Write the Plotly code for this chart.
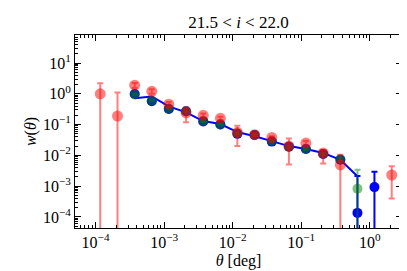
import plotly.graph_objects as go

# red series (bins k = 0..14, 17)
theta_red = [1.17e-4, 2.09e-4, 3.72e-4, 6.61e-4, 1.17e-3, 2.09e-3, 3.72e-3, 6.61e-3,
             1.17e-2, 2.09e-2, 3.72e-2, 6.61e-2, 0.117, 0.209, 0.372, 2.09]
w_red = [1.0, 0.19, 1.9, 1.2, 0.46, 0.24, 0.20, 0.16,
         0.056, 0.047, 0.038, 0.020, 0.025, 0.012, 0.0049, 0.0023]
err_red_plus = [1.2, 0.91, 0.35, 0.2, 0.08, 0.12, 0.03, 0.02,
                0.036, 0.005, 0.004, 0.015, 0.004, 0.003, 0.0055, 0.0021]
err_red_minus = [2.0, 0.4, 0.35, 0.2, 0.08, 0.12, 0.03, 0.02,
                 0.036, 0.005, 0.004, 0.015, 0.004, 0.0066, 0.01, 0.0019]

# blue markers (bins k = 2..16)
theta_blue = [3.72e-4, 6.61e-4, 1.17e-3, 2.09e-3, 3.72e-3, 6.61e-3, 1.17e-2,
              2.09e-2, 3.72e-2, 6.61e-2, 0.117, 0.209, 0.372, 0.661, 1.17]
w_blue = [0.98, 0.57, 0.32, 0.27, 0.127, 0.10, 0.05,
          0.046, 0.028, 0.019, 0.016, 0.011, 0.0072, 1.35e-4, 9.3e-4]
err_blue_plus = [0.05, 0.03, 0.02, 0.015, 0.008, 0.006, 0.003,
                 0.003, 0.002, 0.0012, 0.001, 0.0008, 0.0008, 2.0e-3, 2.0e-3]
err_blue_minus = [0.05, 0.03, 0.02, 0.015, 0.008, 0.006, 0.003,
                  0.003, 0.002, 0.0012, 0.001, 0.0008, 0.0008, 1.0e-3, 3.0e-3]

# green markers (bins k = 2..15)
theta_green = [3.72e-4, 6.61e-4, 1.17e-3, 2.09e-3, 3.72e-3, 6.61e-3, 1.17e-2,
               2.09e-2, 3.72e-2, 6.61e-2, 0.117, 0.209, 0.372, 0.661]
w_green = [0.95, 0.6, 0.33, 0.27, 0.13, 0.10, 0.052,
           0.046, 0.029, 0.019, 0.016, 0.011, 0.0075, 8.3e-4]
err_green_plus = [0.05, 0.03, 0.02, 0.015, 0.008, 0.006, 0.003,
                  0.003, 0.002, 0.0012, 0.001, 0.0008, 0.0008, 2.6e-3]
err_green_minus = [0.05, 0.03, 0.02, 0.015, 0.008, 0.006, 0.003,
                   0.003, 0.002, 0.0012, 0.001, 0.0008, 0.0008, 2.0e-3]

# blue line (bins k = 2..15)
theta_line = [3.72e-4, 6.61e-4, 1.17e-3, 2.09e-3, 3.72e-3, 6.61e-3, 1.17e-2,
              2.09e-2, 3.72e-2, 6.61e-2, 0.117, 0.209, 0.372, 0.661]
w_line = [0.72, 0.82, 0.39, 0.25, 0.13, 0.104, 0.057,
          0.042, 0.029, 0.020, 0.016, 0.012, 0.0072, 0.0021]

# tick labels
x_tickvals = [1e-4, 1e-3, 1e-2, 1e-1, 1e0]
x_ticktext = ["10<sup>−4</sup>", "10<sup>−3</sup>", "10<sup>−2</sup>",
              "10<sup>−1</sup>", "10<sup>0</sup>"]
y_tickvals = [1e-4, 1e-3, 1e-2, 1e-1, 1e0, 1e1]
y_ticktext = ["10<sup>−4</sup>", "10<sup>−3</sup>", "10<sup>−2</sup>",
              "10<sup>−1</sup>", "10<sup>0</sup>", "10<sup>1</sup>"]

RED = "rgba(255,0,0,0.5)"
GREEN = "rgba(0,128,0,0.5)"
BLUE = "#0000ff"
FONT = "Liberation Serif"

fig = go.Figure()
fig.add_trace(go.Scatter(x=theta_line, y=w_line, mode="lines",
                         line=dict(color=BLUE, width=2), hoverinfo="skip"))
fig.add_trace(go.Scatter(
    x=theta_blue, y=w_blue, mode="markers",
    marker=dict(color=BLUE, size=10, line=dict(width=0)),
    error_y=dict(type="data", symmetric=False, array=err_blue_plus,
                 arrayminus=err_blue_minus, color=BLUE, thickness=2, width=3)))
fig.add_trace(go.Scatter(
    x=theta_green, y=w_green, mode="markers",
    marker=dict(color=GREEN, size=10, line=dict(width=0)),
    error_y=dict(type="data", symmetric=False, array=err_green_plus,
                 arrayminus=err_green_minus, color=GREEN, thickness=2, width=3)))
fig.add_trace(go.Scatter(
    x=theta_red, y=w_red, mode="markers",
    marker=dict(color=RED, size=11, line=dict(width=0)),
    error_y=dict(type="data", symmetric=False, array=err_red_plus,
                 arrayminus=err_red_minus, color=RED, thickness=2, width=3)))

axis_common = dict(
    type="log", showgrid=False, zeroline=False,
    showline=True, linecolor="black", linewidth=1, mirror="allticks",
    ticks="inside", ticklen=6, tickwidth=1, tickcolor="black",
    tickfont=dict(family=FONT, size=16, color="black"),
    minor=dict(ticks="inside", ticklen=3, tickwidth=0.8, tickcolor="black",
               dtick="D1", showgrid=False),
)

fig.update_layout(
    width=407, height=271,
    margin=dict(l=67, r=13, t=27, b=51),
    paper_bgcolor="white", plot_bgcolor="white",
    showlegend=False,
    font=dict(family=FONT, color="black"),
    title=dict(text="21.5 &lt; <i>i</i> &lt; 22.0", x=0.5, xref="paper",
               xanchor="center", y=0.95, yanchor="middle",
               font=dict(family=FONT, size=17, color="black")),
    xaxis=dict(axis_common, range=[-4.30, 0.47],
               tickvals=x_tickvals, ticktext=x_ticktext,
               title=dict(text="<i>θ</i> [deg]", standoff=4,
                          font=dict(family=FONT, size=16, color="black"))),
    yaxis=dict(axis_common, range=[-4.36, 1.91],
               tickvals=y_tickvals, ticktext=y_ticktext,
               title=dict(text="<i>w</i>(<i>θ</i>)", standoff=2,
                          font=dict(family=FONT, size=16, color="black"))),
)

fig.write_html("out.html")
